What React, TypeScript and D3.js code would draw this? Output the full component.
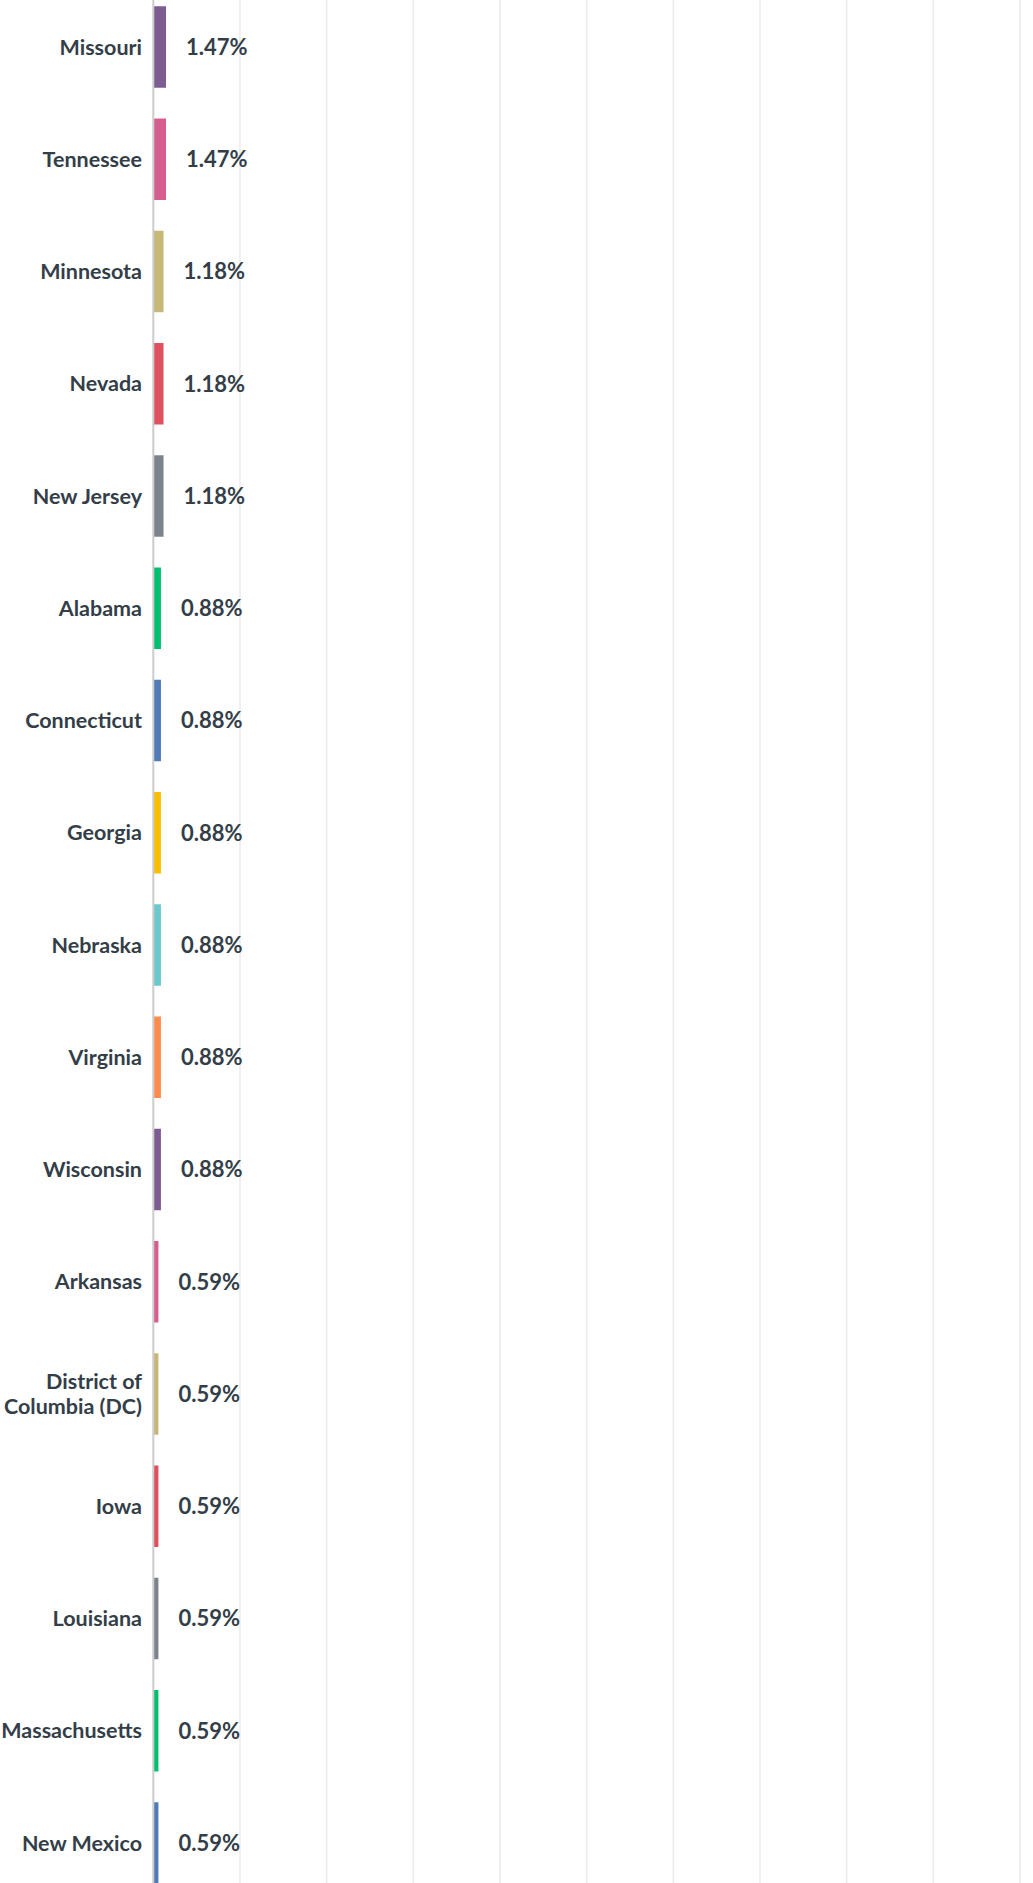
import React from "react";
import * as d3 from "d3";

const categories: string[][] = [
  ["Missouri"],
  ["Tennessee"],
  ["Minnesota"],
  ["Nevada"],
  ["New Jersey"],
  ["Alabama"],
  ["Connecticut"],
  ["Georgia"],
  ["Nebraska"],
  ["Virginia"],
  ["Wisconsin"],
  ["Arkansas"],
  ["District of", "Columbia (DC)"],
  ["Iowa"],
  ["Louisiana"],
  ["Massachusetts"],
  ["New Mexico"],
];

const values: number[] = [
  1.47, 1.47, 1.18, 1.18, 1.18, 0.88, 0.88, 0.88, 0.88, 0.88, 0.88, 0.59, 0.59,
  0.59, 0.59, 0.59, 0.59,
];

const valueLabels: string[] = [
  "1.47%", "1.47%", "1.18%", "1.18%", "1.18%", "0.88%", "0.88%", "0.88%",
  "0.88%", "0.88%", "0.88%", "0.59%", "0.59%", "0.59%", "0.59%", "0.59%",
  "0.59%",
];

const palette: string[] = [
  "#7d5c91", "#d65e8f", "#c8b878", "#e0515f", "#7b848c",
  "#00bf6f", "#507cb6", "#f9be00", "#6bc8cd", "#ff8b4f",
];

const gridTicks: number[] = [10, 20, 30, 40, 50, 60, 70, 80, 90, 100];

const W = 1033;
const H = 1883;
const FONT = "Lato, 'Liberation Sans', Arial, sans-serif";
const TEXT = "#333e48";

export default function App() {
  const keys = categories.map((c) => c.join(" "));
  const step = 112.25;
  const firstCenter = 47;
  const y = d3
    .scaleBand<string>()
    .domain(keys)
    .range([firstCenter - step / 2, firstCenter - step / 2 + step * keys.length])
    .paddingInner(0.274)
    .paddingOuter(0.137);
  const x = d3.scaleLinear().domain([0, 100]).range([153.3, 1020]);

  return (
    <svg
      width={W}
      height={H}
      style={{ position: "absolute", left: 0, top: 0, background: "#fff" }}
    >
      <rect x={0} y={0} width={W} height={H} fill="#fff" />
      {gridTicks.map((t) => (
        <line
          key={t}
          x1={x(t)}
          x2={x(t)}
          y1={0}
          y2={H}
          stroke="#ebebeb"
          strokeWidth={1.5}
        />
      ))}
      {keys.map((k, i) => {
        const y0 = y(k) as number;
        const bw = y.bandwidth();
        const cy = y0 + bw / 2;
        const lines = categories[i];
        return (
          <g key={k}>
            <rect
              x={x(0)}
              y={y0}
              width={x(values[i]) - x(0)}
              height={bw}
              fill={palette[i % palette.length]}
            />
            <text
              x={x(values[i]) + 20}
              y={cy}
              dy="0.36em"
              fontFamily={FONT}
              fontSize={22}
              fontWeight={700}
              fill={TEXT}
            >
              {valueLabels[i]}
            </text>
            <text
              x={142}
              y={cy - ((lines.length - 1) * 25) / 2}
              textAnchor="end"
              fontFamily={FONT}
              fontSize={21.5}
              fontWeight={700}
              fill={TEXT}
            >
              {lines.map((l, j) => (
                <tspan key={j} x={142} dy={j === 0 ? "0.36em" : 25}>
                  {l}
                </tspan>
              ))}
            </text>
          </g>
        );
      })}
      <line
        x1={x(0)}
        x2={x(0)}
        y1={0}
        y2={H}
        stroke="#cccccc"
        strokeWidth={2}
      />
    </svg>
  );
}
